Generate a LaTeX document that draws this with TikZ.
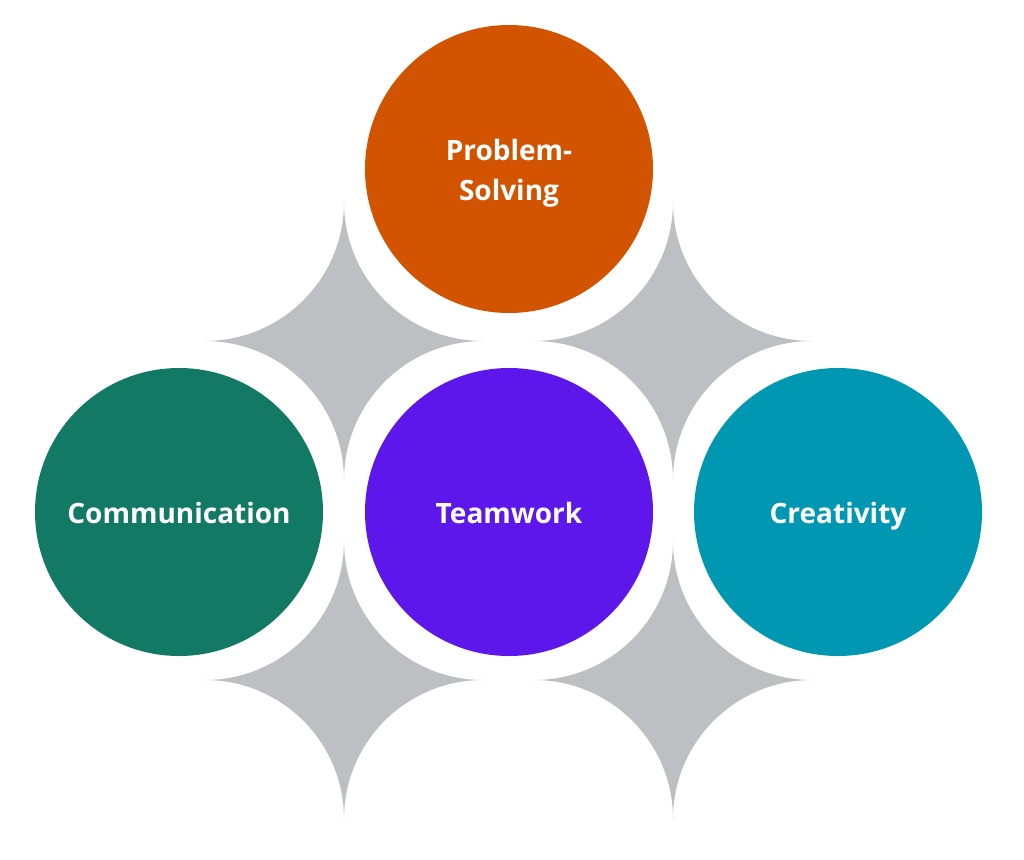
\documentclass[tikz,border=0pt]{standalone}
\usepackage{fontspec}
\setmainfont{Open Sans}
\definecolor{psorange}{RGB}{211,84,0}
\definecolor{commgreen}{RGB}{18,122,100}
\definecolor{teampurple}{RGB}{94,23,235}
\definecolor{createal}{RGB}{0,151,178}
\definecolor{stargray}{RGB}{190,191,195}
\begin{document}
\begin{tikzpicture}[x=1pt,y=-1pt,
  halo/.style={fill=white},
  bubble/.style={circle, minimum size=288pt, inner sep=0pt},
  lbl/.style={anchor=base, inner sep=0pt, text=white,
    font=\fontsize{28}{40}\selectfont\bfseries}]
\useasboundingbox (0,0) rectangle (1024,859);
% four-pointed stars
\foreach \cx/\cy in {344/341, 673/341, 344/680, 673/680}{
  \fill[stargray] (\cx,\cy-139)
    arc[start angle=0, end angle=90, radius=139]
    arc[start angle=270, end angle=360, radius=139]
    arc[start angle=180, end angle=270, radius=139]
    arc[start angle=90, end angle=180, radius=139] -- cycle;
}
% white halos
\foreach \cx/\cy in {509/169, 179/512, 509/512, 838/512}{
  \fill[halo] (\cx,\cy) circle[radius=165];
}
\node[bubble, fill=psorange] (ps) at (509,169) {};
\node[bubble, fill=commgreen] (comm) at (179,512) {};
\node[bubble, fill=teampurple] (team) at (509,512) {};
\node[bubble, fill=createal] (crea) at (838,512) {};
\node[lbl] (ps1) at (509,160) {Problem-};
\node[lbl] (ps2) at (509,200) {Solving};
\node[lbl] (commt) at (179,523) {Communication};
\node[lbl] (teamt) at (509,523) {Teamwork};
\node[lbl] (creat) at (838,523) {Creativity};
\end{tikzpicture}
\end{document}
